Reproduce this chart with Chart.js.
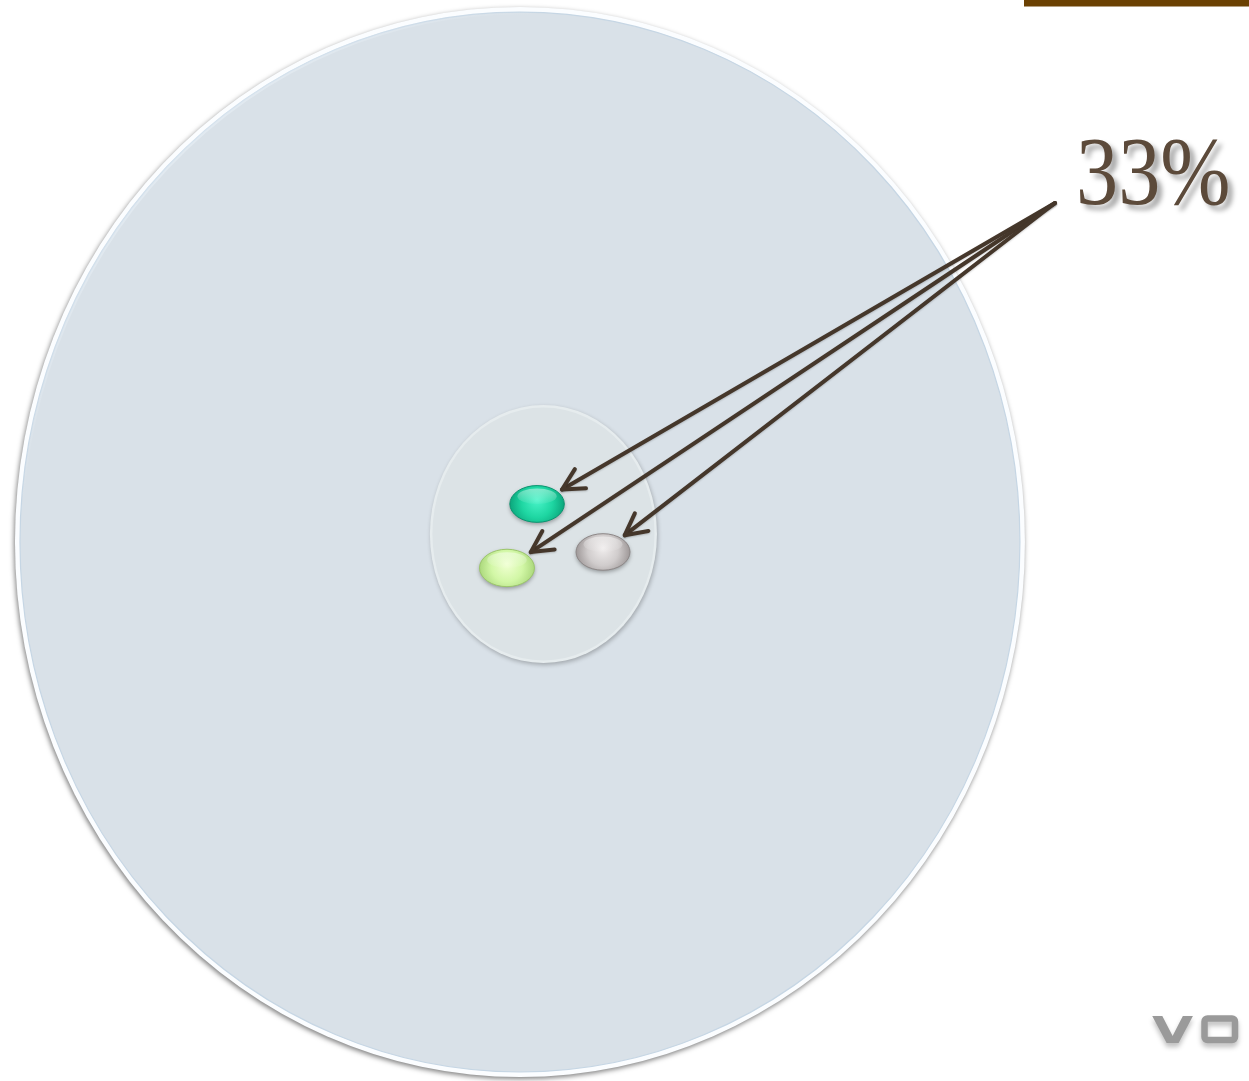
<!DOCTYPE html>
<html>
<head>
<meta charset="utf-8">
<script src="https://cdn.jsdelivr.net/npm/chart.js@4/dist/chart.umd.min.js"></script>
<style>
  html, body { margin: 0; padding: 0; background: #ffffff; overflow: hidden; }
  #wrap { width: 1249px; height: 1081px; position: relative; }
</style>
</head>
<body>
<div id="wrap"><canvas id="c" width="1249" height="1081"></canvas></div>
<script>
// ---- data (abstract units: 0..100 on each axis) ----
const categories = ['All', 'Group', 'Item A', 'Item B', 'Item C'];
const centerX = [41.63, 43.51, 43.00, 40.59, 48.28];
const centerY = [49.86, 50.60, 53.38, 47.46, 48.94];
const radiusX = [40.43, 9.09, 2.18, 2.20, 2.16];
const radiusY = [49.49, 11.93, 1.70, 1.73, 1.69];
const itemShares = [33, 33, 33];          // share of each of the three items
const labelAnchorX = [84.47];
const labelAnchorY = [81.22];
const labelText = itemShares[0] + '%';

// ---- styles ----
const dotStyles = [
  { inner: '#46f2c6', mid: '#1ed6a2', edge: '#0ca67c', stroke: '#0b9470' },
  { inner: '#eeffcf', mid: '#d2f7a6', edge: '#abd87c', stroke: '#9cc66c' },
  { inner: '#eeebeb', mid: '#d0cccc', edge: '#9e9898', stroke: '#8e8888' }
];

function ellipsePx(chart, i) {
  const xs = chart.scales.x, ys = chart.scales.y;
  const meta = chart.getDatasetMeta(0);
  const el = meta.data[i];
  const px = el.x, py = el.y;
  const rx = Math.abs(xs.getPixelForValue(centerX[i] + radiusX[i]) - px);
  const ry = Math.abs(ys.getPixelForValue(centerY[i] + radiusY[i]) - py);
  return { px, py, rx, ry };
}

function pathEllipse(ctx, e, shrink) {
  ctx.beginPath();
  ctx.ellipse(e.px, e.py, Math.max(1, e.rx - shrink), Math.max(1, e.ry - shrink), 0, 0, Math.PI * 2);
}

const drawPlugin = {
  id: 'nestedSets',
  afterDatasetsDraw(chart) {
    const ctx = chart.ctx;
    // ---- big outer set ----
    const big = ellipsePx(chart, 0);
    ctx.save();
    ctx.shadowColor = 'rgba(0,0,0,0.5)';
    ctx.shadowBlur = 5;
    ctx.shadowOffsetX = -1;
    ctx.shadowOffsetY = 2;
    pathEllipse(ctx, big, 0);
    ctx.fillStyle = '#fbfdff';
    ctx.fill();
    ctx.restore();
    ctx.save();
    pathEllipse(ctx, big, 5);
    ctx.fillStyle = '#d9e1e8';
    ctx.fill();
    ctx.lineWidth = 1.2;
    ctx.strokeStyle = '#c6d6e4';
    ctx.stroke();
    ctx.restore();
    // soft highlight on upper-left rim
    ctx.save();
    pathEllipse(ctx, big, 6);
    const hg = ctx.createLinearGradient(big.px - big.rx, big.py - big.ry, big.px, big.py);
    hg.addColorStop(0, 'rgba(240,248,255,0.9)');
    hg.addColorStop(0.5, 'rgba(240,248,255,0)');
    ctx.lineWidth = 3;
    ctx.strokeStyle = hg;
    ctx.stroke();
    ctx.restore();

    // ---- inner set ----
    const inner = ellipsePx(chart, 1);
    ctx.save();
    ctx.shadowColor = 'rgba(0,0,0,0.25)';
    ctx.shadowBlur = 4;
    ctx.shadowOffsetX = 1;
    ctx.shadowOffsetY = 2;
    pathEllipse(ctx, inner, 0);
    ctx.fillStyle = '#e6ecee';
    ctx.fill();
    ctx.restore();
    ctx.save();
    pathEllipse(ctx, inner, 2.5);
    ctx.fillStyle = '#dce3e6';
    ctx.fill();
    ctx.restore();

    // ---- three items ----
    for (let k = 0; k < 3; k++) {
      const e = ellipsePx(chart, k + 2);
      const st = dotStyles[k];
      ctx.save();
      ctx.shadowColor = 'rgba(0,0,0,0.35)';
      ctx.shadowBlur = 4;
      ctx.shadowOffsetY = 2;
      pathEllipse(ctx, e, 0);
      const g = ctx.createRadialGradient(e.px, e.py - e.ry * 0.2, 1, e.px, e.py, Math.max(e.rx, e.ry));
      g.addColorStop(0, st.inner);
      g.addColorStop(0.55, st.mid);
      g.addColorStop(1, st.edge);
      ctx.fillStyle = g;
      ctx.fill();
      ctx.restore();
      ctx.save();
      pathEllipse(ctx, e, 0);
      ctx.lineWidth = 1;
      ctx.strokeStyle = st.stroke;
      ctx.stroke();
      // gloss
      ctx.beginPath();
      ctx.ellipse(e.px, e.py - e.ry * 0.42, e.rx * 0.72, e.ry * 0.42, 0, 0, Math.PI * 2);
      const gg = ctx.createLinearGradient(0, e.py - e.ry, 0, e.py);
      gg.addColorStop(0, 'rgba(255,255,255,0.5)');
      gg.addColorStop(1, 'rgba(255,255,255,0.05)');
      ctx.fillStyle = gg;
      ctx.fill();
      ctx.restore();
    }

    // ---- arrows from label to items ----
    const ax = chart.scales.x.getPixelForValue(labelAnchorX[0]);
    const ay = chart.scales.y.getPixelForValue(labelAnchorY[0]);
    for (let k = 0; k < 3; k++) {
      const e = ellipsePx(chart, k + 2);
      const dx = ax - e.px, dy = ay - e.py;
      const s = 1 / Math.sqrt((dx / e.rx) ** 2 + (dy / e.ry) ** 2);
      const len = Math.hypot(dx, dy);
      const gap = 5;
      const tx = e.px + dx * s + dx / len * gap;
      const ty = e.py + dy * s + dy / len * gap;
      const ang = Math.atan2(ay - ty, ax - tx);
      ctx.save();
      ctx.strokeStyle = '#45372b';
      ctx.lineWidth = 4;
      ctx.lineCap = 'round';
      ctx.lineJoin = 'round';
      ctx.shadowColor = 'rgba(0,0,0,0.2)';
      ctx.shadowBlur = 2;
      ctx.shadowOffsetY = 1;
      ctx.beginPath();
      ctx.moveTo(ax, ay);
      ctx.lineTo(tx, ty);
      ctx.stroke();
      const hl = 24, ha = 0.48;
      ctx.beginPath();
      ctx.moveTo(tx + hl * Math.cos(ang - ha), ty + hl * Math.sin(ang - ha));
      ctx.lineTo(tx, ty);
      ctx.lineTo(tx + hl * Math.cos(ang + ha), ty + hl * Math.sin(ang + ha));
      ctx.stroke();
      ctx.restore();
    }

    // ---- label ----
    ctx.save();
    ctx.translate(ax + 21, ay + 1);
    ctx.scale(0.86, 1);
    ctx.font = '98px "Liberation Serif", "Times New Roman", serif';
    ctx.textAlign = 'left';
    ctx.textBaseline = 'alphabetic';
    ctx.shadowColor = 'rgba(0,0,0,0.35)';
    ctx.shadowBlur = 5;
    ctx.shadowOffsetX = 5;
    ctx.shadowOffsetY = 5;
    ctx.fillStyle = '#5c4a3a';
    ctx.fillText(labelText, 0, 0);
    ctx.restore();

    // ---- decorative top bar ----
    ctx.save();
    ctx.fillStyle = '#6b4102';
    ctx.fillRect(1024, 0, chart.width - 1024, 6.5);
    ctx.restore();

    // ---- corner mark ----
    ctx.save();
    ctx.shadowColor = 'rgba(0,0,0,0.25)';
    ctx.shadowBlur = 5;
    ctx.shadowOffsetY = 4;
    ctx.fillStyle = '#9a9a9a';
    ctx.strokeStyle = '#9a9a9a';
    ctx.save();
    ctx.translate(1152, 1043);
    ctx.scale(1.4, 1);
    ctx.font = 'bold 38px "DejaVu Sans", sans-serif';
    ctx.textAlign = 'left';
    ctx.textBaseline = 'alphabetic';
    ctx.fillText('V', 0, 0);
    ctx.restore();
    ctx.lineWidth = 6.5;
    ctx.beginPath();
    ctx.roundRect(1204.5, 1018.5, 30.5, 21.5, 3);
    ctx.stroke();
    ctx.restore();
  }
};

new Chart(document.getElementById('c'), {
  type: 'scatter',
  data: {
    labels: categories,
    datasets: [{
      label: 'sets',
      data: categories.map((c, i) => ({ x: centerX[i], y: centerY[i] })),
      pointRadius: 0,
      pointHoverRadius: 0,
      backgroundColor: 'rgba(0,0,0,0)',
      borderColor: 'rgba(0,0,0,0)'
    }]
  },
  options: {
    responsive: false,
    maintainAspectRatio: false,
    animation: false,
    layout: { padding: 0 },
    plugins: { legend: { display: false }, tooltip: { enabled: false }, title: { display: false } },
    scales: {
      x: { type: 'linear', min: 0, max: 100, display: false },
      y: { type: 'linear', min: 0, max: 100, display: false }
    }
  },
  plugins: [drawPlugin]
});
</script>
</body>
</html>
